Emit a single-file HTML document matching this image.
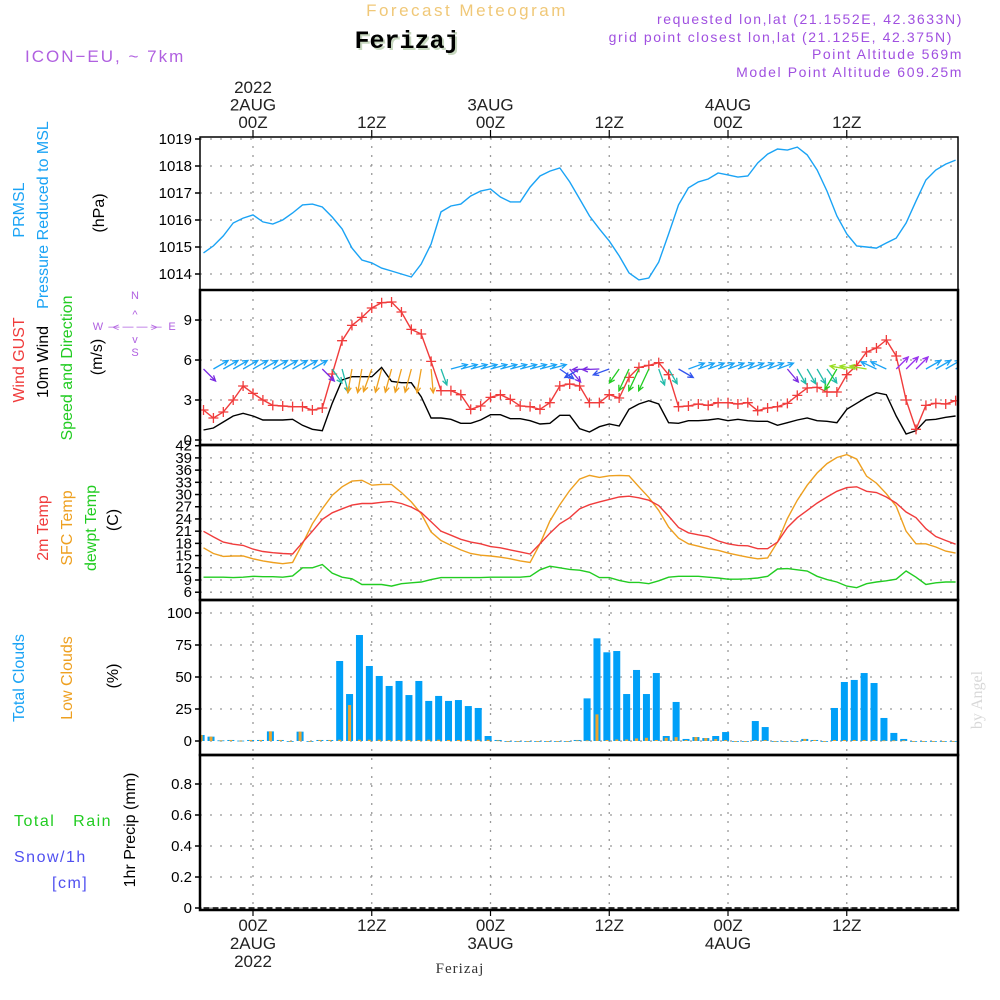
<!DOCTYPE html>
<html><head><meta charset="utf-8"><style>
html,body{margin:0;padding:0;background:#fff;width:1000px;height:1000px;overflow:hidden}
svg{display:block;font-family:"Liberation Sans",sans-serif}
</style></head><body>
<svg id="chart" width="1000" height="1000" viewBox="0 0 1000 1000" xmlns="http://www.w3.org/2000/svg">
<text x="467" y="16" text-anchor="middle" font-size="17" letter-spacing="2.5" fill="#f0c878">Forecast Meteogram</text>
<text x="409" y="50" text-anchor="middle" font-family="Liberation Mono,monospace" font-weight="bold" font-size="25" fill="#c8d8c0">Ferizaj</text>
<text x="407" y="48" text-anchor="middle" font-family="Liberation Mono,monospace" font-weight="bold" font-size="25" fill="#000">Ferizaj</text>
<text x="25" y="62" font-size="17" letter-spacing="2" fill="#b060e0">ICON−EU, ~ 7km</text>
<g font-size="14" letter-spacing="1.6" fill="#a050e0" text-anchor="end">
<text x="963" y="24">requested lon,lat (21.1552E, 42.3633N)</text>
<text x="953" y="42">grid point closest lon,lat (21.125E, 42.375N)</text>
<text x="963" y="59">Point Altitude 569m</text>
<text x="963" y="77">Model Point Altitude 609.25m</text>
</g>
<g id="grid"></g>
<g id="marks"></g>
<g id="frame"></g>
<g font-size="16">
<text transform="translate(24,210) rotate(-90)" text-anchor="middle" fill="#1aa3f5">PRMSL</text>
<text transform="translate(48,215) rotate(-90)" text-anchor="middle" fill="#1aa3f5">Pressure Reduced to MSL</text>
<text transform="translate(104,213) rotate(-90)" text-anchor="middle" fill="#000">(hPa)</text>
<text transform="translate(24,360) rotate(-90)" text-anchor="middle" fill="#f03c3c">Wind GUST</text>
<text transform="translate(48,362) rotate(-90)" text-anchor="middle" fill="#000">10m Wind</text>
<text transform="translate(72,368) rotate(-90)" text-anchor="middle" fill="#22cc22">Speed and Direction</text>
<text transform="translate(102,357) rotate(-90)" text-anchor="middle" fill="#000">(m/s)</text>
<text transform="translate(48,528) rotate(-90)" text-anchor="middle" fill="#f03c3c">2m Temp</text>
<text transform="translate(72,528) rotate(-90)" text-anchor="middle" fill="#eea020">SFC Temp</text>
<text transform="translate(96,528) rotate(-90)" text-anchor="middle" fill="#22cc22">dewpt Temp</text>
<text transform="translate(118,520) rotate(-90)" text-anchor="middle" fill="#000">(C)</text>
<text transform="translate(24,678) rotate(-90)" text-anchor="middle" fill="#1aa3f5">Total Clouds</text>
<text transform="translate(72,678) rotate(-90)" text-anchor="middle" fill="#eea020">Low Clouds</text>
<text transform="translate(118,676) rotate(-90)" text-anchor="middle" fill="#000">(%)</text>
<text x="14" y="826" fill="#22cc22" letter-spacing="1.5" xml:space="preserve">Total   Rain</text>
<text x="14" y="862" fill="#5050f0" letter-spacing="1.5">Snow/1h</text>
<text x="52" y="888" fill="#5050f0" letter-spacing="1.5">[cm]</text>
<text transform="translate(135,830) rotate(-90)" text-anchor="middle" fill="#000">1hr Precip (mm)</text>
</g>
<g fill="#b060e0" font-size="11" text-anchor="middle">
<text x="135" y="299">N</text>
<text x="135" y="318">^</text>
<text x="135" y="330">— — — —</text>
<text x="135" y="343">v</text>
<text x="135" y="356">S</text>
<text x="98" y="330">W</text>
<text x="116" y="331">&lt;</text>
<text x="154" y="331">&gt;</text>
<text x="172" y="330">E</text>
</g>
<text transform="translate(982,700) rotate(-90)" text-anchor="middle" font-family="Liberation Serif,serif" font-size="16" fill="#d8d8d8">by Angel</text>
<text x="460" y="973" text-anchor="middle" font-family="Liberation Serif,serif" font-size="15" letter-spacing="1" fill="#333">Ferizaj</text>
</svg>
<script>
const hours = [];
for (let h = -5; h <= 71; h++) hours.push(h);
const pressure = [1014.78,1015.04,1015.41,1015.89,1016.07,1016.19,1015.93,1015.85,1016.0,1016.26,1016.56,1016.59,1016.48,1016.11,1015.67,1014.96,1014.52,1014.41,1014.22,1014.11,1014.0,1013.89,1014.37,1015.11,1016.30,1016.52,1016.59,1016.89,1017.07,1017.15,1016.85,1016.67,1016.67,1017.22,1017.63,1017.81,1017.93,1017.41,1016.78,1016.15,1015.67,1015.22,1014.67,1014.04,1013.78,1013.85,1014.44,1015.48,1016.56,1017.19,1017.41,1017.52,1017.74,1017.67,1017.59,1017.63,1018.11,1018.44,1018.63,1018.59,1018.70,1018.41,1017.85,1017.07,1016.15,1015.48,1015.04,1015.0,1014.96,1015.15,1015.33,1015.89,1016.70,1017.48,1017.85,1018.07,1018.22];
const gust = [2.25,1.65,2.1,3.0,4.05,3.5,3.0,2.6,2.55,2.5,2.5,2.25,2.4,4.95,7.45,8.6,9.2,9.9,10.3,10.35,9.6,8.3,7.95,5.9,3.7,3.7,3.4,2.3,2.55,3.2,3.4,3.05,2.55,2.5,2.3,2.8,4.05,4.2,4.05,2.8,2.8,3.4,3.15,4.7,5.45,5.6,5.8,4.9,2.5,2.55,2.7,2.6,2.8,2.8,2.7,2.8,2.2,2.4,2.5,2.75,3.35,3.9,3.95,3.6,3.6,4.9,5.6,6.6,6.9,7.5,6.3,3.0,0.8,2.6,2.75,2.7,2.95];
const wind10m = [0.75,0.9,1.35,1.8,2.0,1.8,1.5,1.5,1.5,1.55,1.1,0.8,0.7,2.75,4.5,4.75,4.75,4.75,5.45,4.4,4.3,4.3,3.25,1.65,1.65,1.55,1.25,1.25,1.5,1.9,1.9,1.6,1.6,1.45,1.2,1.25,1.85,1.85,0.85,0.6,1.0,1.2,1.05,2.3,2.7,2.95,2.7,1.3,1.25,1.45,1.45,1.5,1.6,1.45,1.55,1.45,1.4,1.4,1.1,1.3,1.5,1.65,1.45,1.4,1.3,2.3,2.75,3.2,3.55,3.4,1.8,0.45,0.7,1.5,1.55,1.7,1.8];
const windToDir = [135,60,60,60,60,60,60,60,60,60,60,60,135,145,165,190,190,200,195,195,195,195,190,175,160,75,75,75,75,75,75,75,75,75,75,75,125,140,240,268,268,250,215,205,205,205,160,150,120,70,70,70,70,70,70,70,70,70,70,140,150,150,150,145,210,280,280,280,295,295,45,45,45,60,60,60,60];
const temp2m = [20.96,19.6,18.3,17.8,17.5,16.6,16.0,15.7,15.5,15.4,18.2,21.0,23.9,25.5,26.5,27.4,27.8,27.8,28.1,28.3,27.8,26.9,25.6,23.3,21.0,20.0,19.0,18.3,17.9,17.2,16.9,16.4,15.9,15.4,17.9,20.5,22.8,24.3,26.5,27.5,28.2,28.8,29.4,29.6,29.2,28.6,27.3,24.7,21.9,20.6,20.1,19.7,18.6,17.9,17.5,17.4,16.7,16.7,18.3,21.9,24.3,26.1,27.9,29.4,30.8,31.7,31.9,30.8,30.5,29.4,27.9,25.7,24.3,21.6,19.7,18.7,17.8];
const tempSfc = [16.9,15.5,14.8,14.9,14.9,14.2,13.7,13.3,13.0,13.3,17.9,22.8,26.5,29.8,31.9,33.3,33.5,32.3,32.5,32.5,30.5,28.2,25.3,20.8,18.7,17.5,16.4,15.5,15.1,14.9,14.6,14.2,13.7,13.3,17.9,23.5,27.5,31.0,33.8,34.7,34.2,34.6,34.7,34.6,31.9,29.3,26.1,22.0,19.3,17.9,17.3,16.7,16.3,15.6,15.1,14.6,14.2,14.4,18.3,24.1,28.6,32.3,35.3,37.6,39.1,39.8,38.7,34.5,32.8,30.2,27.1,21.0,17.9,17.9,17.1,16.1,15.6];
const dewpoint = [9.7,9.7,9.7,9.6,9.7,9.9,9.8,9.8,9.7,10.0,12.0,12.0,12.8,10.7,9.7,9.3,7.9,7.9,7.9,7.5,8.1,8.3,8.5,9.1,9.6,9.6,9.6,9.6,9.6,9.7,9.7,9.7,9.7,9.9,11.5,12.4,12.0,11.6,11.4,10.9,9.6,9.6,8.9,8.4,8.4,8.1,8.8,9.7,9.9,9.9,9.9,9.7,9.5,9.2,9.2,9.3,9.5,9.9,11.7,11.8,11.5,11.2,9.9,9.1,8.5,7.5,7.1,8.1,8.5,8.8,9.2,11.2,9.7,7.9,8.3,8.5,8.5];
const cloudHours = [];
for (let h = -6; h <= 70; h++) cloudHours.push(h);
const totalClouds = [4.7,3.4,0.5,0.8,0.3,0.8,0.8,7.5,0.8,0,7.3,0,0.8,0.8,62.5,36.7,82.8,58.6,50.8,43,46.9,35.9,46.9,31.3,35.2,31.3,32,27.3,25.8,3.9,0.8,0,0,0,0,0,0,0,0.8,33.3,80.2,69.3,70.3,36.7,55.5,36.7,53.1,3.9,30.5,1.6,3.1,2.3,3.9,7.0,0,0,15.6,10.9,0,0,0,1.6,0.8,0,25.8,46.1,47.7,53.1,45.3,18,6.3,1.6,0,0,0,0,0];
const lowClouds = [4.7,3.4,0.5,0.8,0.3,0.8,0.8,7.5,0.8,0,7.3,0,0.8,0.8,1,28.1,1,1,1,0.8,0.8,0.8,0.8,1,1,0.8,0.8,0.8,1,1,0.5,0,0,0,0,0,0,0,0.5,0.5,20.8,0.8,1.2,1.2,2,2.5,0.8,2.5,3,0.8,3.1,2.3,1.5,0.7,0,0,0.7,0.7,0,0,0,1.6,0.8,0,0.8,0.8,0.8,0.8,0.8,0.5,0.5,0.5,0,0,0,0,0];
const precip = hours.map(() => 0);
const pressureTicks = [1014,1015,1016,1017,1018,1019];
const windTicks = [0,3,6,9];
const tempTicks = [6,9,12,15,18,21,24,27,30,33,36,39,42];
const cloudTicks = [0,25,50,75,100];
const precipTicks = [0,0.2,0.4,0.6,0.8];
const precipTickLabels = ["0","0.2","0.4","0.6","0.8"];
const timeTicks = [0,12,24,36,48,60];
const topLabels = [["2022","2AUG","00Z"],["","","12Z"],["","3AUG","00Z"],["","","12Z"],["","4AUG","00Z"],["","","12Z"]];
const bottomLabels = [["00Z","2AUG","2022"],["12Z","",""],["00Z","3AUG",""],["12Z","",""],["00Z","4AUG",""],["12Z","",""]];

const NS = "http://www.w3.org/2000/svg";
const L = 200, R = 958;
const xH = h => 253 + h * 9.896;
const yP = p => 274 - (p - 1014) * 27;
const yW = v => 440 - v * 13.33;
const yT = t => 580 - (t - 9) * 4.07;
const yC = c => 741 - c * 1.28;
const yR = r => 908 - r * 155;
const panels = [[137,290],[290,445],[445,600],[600,755],[755,910]];

function mk(tag, attrs, parent) {
  const e = document.createElementNS(NS, tag);
  for (const k in attrs) e.setAttribute(k, attrs[k]);
  parent.appendChild(e);
  return e;
}
const grid = document.getElementById('grid');
const marks = document.getElementById('marks');
const frame = document.getElementById('frame');

// vertical dotted grid
timeTicks.forEach(h => {
  const ln = mk('line', {x1: xH(h), x2: xH(h), y1: 137, y2: 910, stroke: '#999', 'stroke-width': 1.3, 'stroke-dasharray': '2 7'}, grid);
  
  
});
function hgrid(vals, yf, labels, name) {
  vals.forEach((v, i) => {
    const y = yf(v);
    const g = mk('line', {x1: L, x2: R, y1: y, y2: y, stroke: '#999', 'stroke-width': 1.3, 'stroke-dasharray': '2 8'}, grid);
    
    
    mk('line', {x1: L - 5, x2: L, y1: y, y2: y, stroke: '#000', 'stroke-width': 1.5}, frame);
    const t = mk('text', {x: L - 8, y: y + 5, 'text-anchor': 'end', 'font-size': 15, fill: '#000'}, frame);
    t.textContent = labels ? labels[i] : String(v);
    
    
  });
}
hgrid(pressureTicks, yP, null, 'pressure');
hgrid(windTicks, yW, null, 'wind');
hgrid(tempTicks, yT, null, 'temp');
hgrid(cloudTicks, yC, null, 'cloud');
hgrid(precipTicks, yR, precipTickLabels, 'precip');

// clip paths
const defs = mk('defs', {}, document.getElementById('chart'));
panels.forEach((p, i) => {
  const cp = mk('clipPath', {id: 'cp' + i}, defs);
  mk('rect', {x: L, y: p[0], width: R - L, height: p[1] - p[0]}, cp);
});
function line(vals, hs, yf, color, clip, name, w) {
  const pts = vals.map((v, i) => xH(hs[i]).toFixed(1) + ',' + yf(v).toFixed(1)).join(' ');
  const pl = mk('polyline', {points: pts, fill: 'none', stroke: color, 'stroke-width': w || 1.4, 'clip-path': 'url(#cp' + clip + ')'}, marks);
  
  
  return pl;
}
line(pressure, hours, yP, '#1aa3f5', 0, 'pressure-line');
line(wind10m, hours, yW, '#000', 1, 'wind-speed-line');
line(gust, hours, yW, '#f03c3c', 1, 'wind-gust-line');
gust.forEach((v, i) => {
  const x = xH(hours[i]), y = yW(v);
  const p = mk('path', {d: `M${x-5},${y}H${x+5}M${x},${y-5}V${y+5}`, stroke: '#f03c3c', 'stroke-width': 1.3, 'clip-path': 'url(#cp1)'}, marks);
  
  
});
function dirColor(d) {
  if (d < 50) return '#9933ee';
  if (d < 90) return '#1aa3f5';
  if (d < 128) return '#3355ee';
  if (d < 142) return '#7a2be2';
  if (d < 170) return '#22bbaa';
  if (d <= 200) return '#eea020';
  if (d < 240) return '#22cc22';
  if (d < 262) return '#3355ee';
  if (d < 275) return '#7a2be2';
  if (d < 285) return '#99dd22';
  return '#1aa3f5';
}
windToDir.forEach((d, i) => {
  const x = xH(hours[i]), y = 369;
  const rad = d * Math.PI / 180;
  const len = (d > 160 && d < 215) ? 24 : 17;
  const ex = x + Math.sin(rad) * len, ey = y - Math.cos(rad) * len;
  const a1 = rad + Math.PI - 0.45, a2 = rad + Math.PI + 0.45;
  const c = dirColor(d);
  const p = mk('path', {d: `M${x},${y}L${ex},${ey}M${ex + Math.sin(a1)*6},${ey - Math.cos(a1)*6}L${ex},${ey}L${ex + Math.sin(a2)*6},${ey - Math.cos(a2)*6}`, stroke: c, 'stroke-width': 1.3, fill: 'none', 'clip-path': 'url(#cp1)'}, marks);
  
  
});
line(dewpoint, hours, yT, '#22cc22', 2, 'dewpoint-line');
line(tempSfc, hours, yT, '#eea020', 2, 'sfc-temp-line');
line(temp2m, hours, yT, '#f03c3c', 2, 'temp-2m-line');
totalClouds.forEach((v, i) => {
  const cx = xH(cloudHours[i]) + 7.5;
  const b = mk('rect', {x: cx - 3.5, y: yC(v), width: 7, height: Math.max(yC(0) - yC(v), 0.8), fill: '#00a0f8', 'clip-path': 'url(#cp3)'}, marks);
  
  
});
lowClouds.forEach((v, i) => {
  const cx = xH(cloudHours[i]) + 7.5;
  const b = mk('rect', {x: cx - 1.5, y: yC(v), width: 3, height: Math.max(yC(0) - yC(v), 0.8), fill: '#eaa530', 'clip-path': 'url(#cp3)'}, marks);
  
  
});
const pz = line(precip, hours, yR, '#000', 4, 'precip-line', 1.5);
pz.setAttribute('stroke-dasharray', '6 3');

// frame
panels.forEach((p, i) => {
  const r = mk('rect', {x: L, y: p[0], width: R - L, height: p[1] - p[0], fill: 'none', stroke: '#000', 'stroke-width': i === 0 ? 1.5 : 2.5}, frame);
  
  
});
timeTicks.forEach((h, i) => {
  const x = xH(h);
  mk('line', {x1: x, x2: x, y1: 130, y2: 137, stroke: '#000', 'stroke-width': 1.2}, frame);
  mk('line', {x1: x, x2: x, y1: 910, y2: 916, stroke: '#000', 'stroke-width': 1.2}, frame);
  topLabels[i].forEach((s, j) => {
    if (!s) return;
    const t = mk('text', {x: x, y: 93 + j * 17.5, 'text-anchor': 'middle', 'font-size': 17, fill: '#222'}, frame);
    t.textContent = s;
    
    
  });
  bottomLabels[i].forEach((s, j) => {
    if (!s) return;
    const t = mk('text', {x: x, y: 931 + j * 18, 'text-anchor': 'middle', 'font-size': 17, fill: '#222'}, frame);
    t.textContent = s;
    
    
  });
});
</script>
</body></html>
